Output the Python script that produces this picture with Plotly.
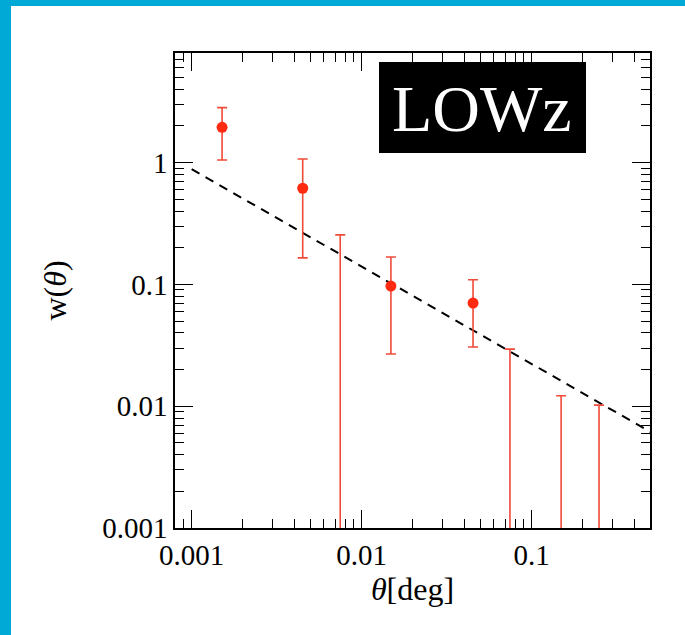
import plotly.graph_objects as go

# --- data ---
theta_pts = [0.00151, 0.0045, 0.01486, 0.0452]
w_pts = [1.95, 0.616, 0.097, 0.0703]
err_plus = [0.88, 0.454, 0.071, 0.039]
err_minus = [0.90, 0.451, 0.0702, 0.0397]

# upper limits (negative measurements: bar runs to bottom of the plot)
theta_lim = [0.00748, 0.0745, 0.149, 0.249]
w_lim = [0.255, 0.0294, 0.0122, 0.0102]

# power-law fit line endpoints
theta_fit = [0.001, 0.5]
w_fit = [0.883, 0.00614]

xtick_vals = [0.001, 0.01, 0.1]
xtick_text = ["0.001", "0.01", "0.1"]
ytick_vals = [0.001, 0.01, 0.1, 1]
ytick_text = ["0.001", "0.01", "0.1", "1"]

RED = "#ff2a10"
ERR = "#f04a38"
FONT = "Liberation Serif"

fig = go.Figure()

fig.add_trace(go.Scatter(
    x=theta_fit, y=w_fit, mode="lines",
    line=dict(color="black", width=2, dash="9px,7px"),
    showlegend=False, hoverinfo="skip"))

fig.add_trace(go.Scatter(
    x=theta_lim, y=w_lim, mode="markers",
    marker=dict(size=1, color="rgba(0,0,0,0)"),
    error_y=dict(type="data", symmetric=False,
                 array=[0] * len(w_lim),
                 arrayminus=[2 * v for v in w_lim],
                 color=ERR, thickness=1.6, width=5),
    showlegend=False))

fig.add_trace(go.Scatter(
    x=theta_pts, y=w_pts, mode="markers",
    marker=dict(size=11, color=RED),
    error_y=dict(type="data", symmetric=False,
                 array=err_plus, arrayminus=err_minus,
                 color=ERR, thickness=1.6, width=5),
    showlegend=False))

axis_common = dict(
    type="log", showgrid=False, zeroline=False,
    showline=True, linecolor="black", linewidth=1.5,
    mirror="allticks", ticks="inside", ticklen=18, tickwidth=1.3,
    tickcolor="black",
    minor=dict(ticks="inside", ticklen=9, tickwidth=1.3, tickcolor="black",
               dtick="D1", showgrid=False),
    tickfont=dict(family=FONT, size=29, color="black"),
)

fig.update_xaxes(**axis_common, range=[-3.098, -0.304],
                 tickmode="array", tickvals=xtick_vals, ticktext=xtick_text,
                 title=dict(text="<i>θ</i>[deg]", standoff=4,
                            font=dict(family=FONT, size=32, color="black")))
fig.update_yaxes(**axis_common, range=[-3, 0.90],
                 tickmode="array", tickvals=ytick_vals, ticktext=ytick_text,
                 title=dict(text="w(<i>θ</i>)", standoff=26,
                            font=dict(family=FONT, size=32, color="black")))

L, R, T, B = 175, 35, 53, 107
W, H = 685, 635
pw, ph = W - L - R, H - T - B

def px(xp):
    return (xp - L) / pw

def py(yp):
    return (H - B - yp) / ph

CYAN = "#00a9d6"
shapes = [
    dict(type="rect", xref="paper", yref="paper", x0=px(0), x1=px(11), y0=py(H), y1=py(0),
         fillcolor=CYAN, line=dict(width=0), layer="above"),
    dict(type="rect", xref="paper", yref="paper", x0=px(0), x1=px(W), y0=py(6), y1=py(0),
         fillcolor=CYAN, line=dict(width=0), layer="above"),
    dict(type="rect", xref="paper", yref="paper", x0=px(379), x1=px(586), y0=py(153), y1=py(62),
         fillcolor="black", line=dict(width=0), layer="above"),
]

fig.update_layout(
    width=W, height=H,
    margin=dict(l=L, r=R, t=T, b=B),
    paper_bgcolor="white", plot_bgcolor="white",
    shapes=shapes,
    annotations=[dict(xref="paper", yref="paper", x=px(482), y=py(108),
                      text="LOWz", showarrow=False, xanchor="center", yanchor="middle",
                      font=dict(family=FONT, size=66, color="white"))],
)

fig.write_html("out.html")
